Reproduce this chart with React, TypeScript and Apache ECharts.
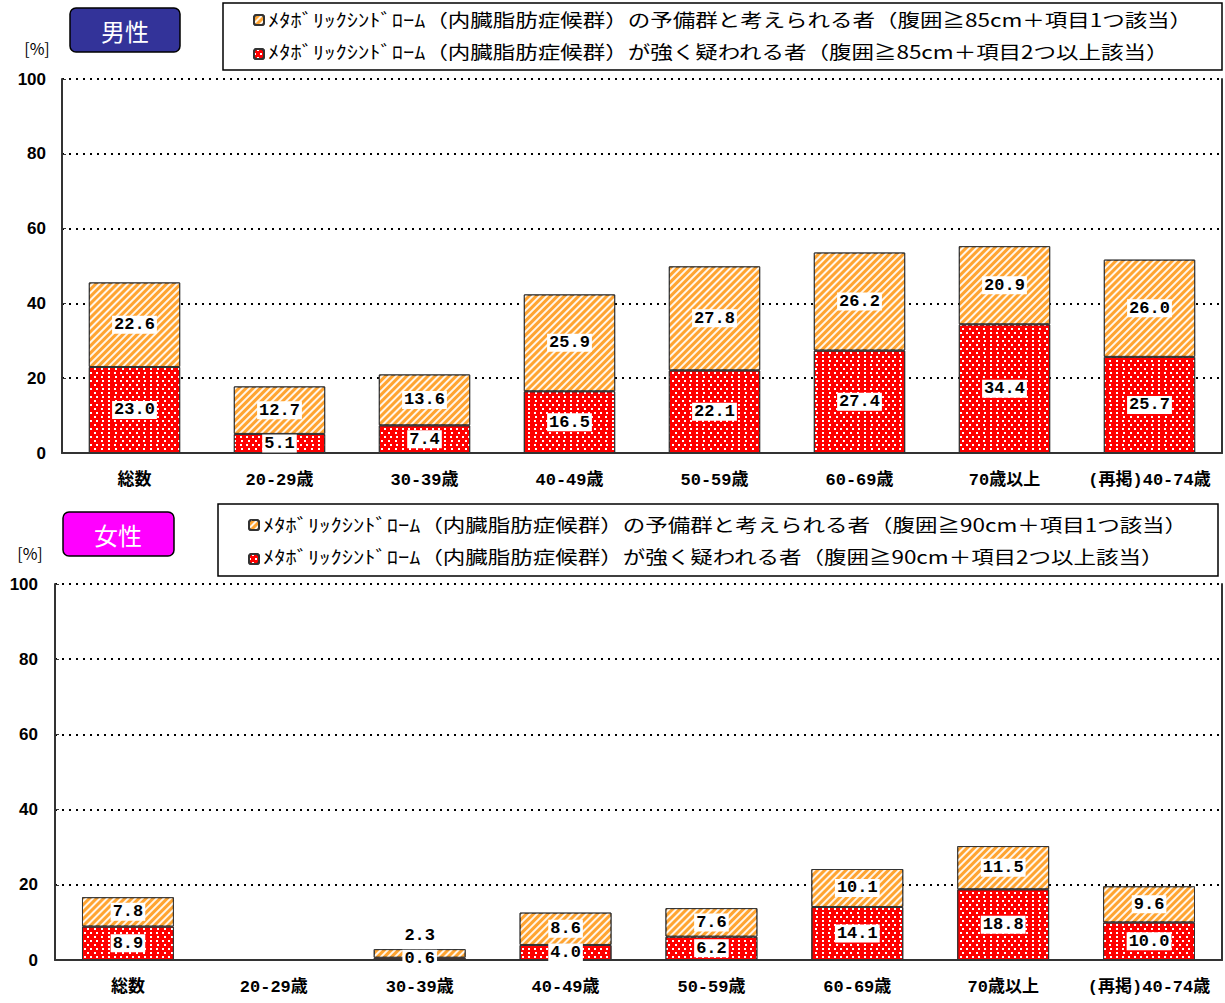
import React, { useEffect, useRef } from 'react';
import * as echarts from 'echarts';

const categories = ['総数', '20-29歳', '30-39歳', '40-49歳', '50-59歳', '60-69歳', '70歳以上', '(再掲)40-74歳'];
const yTicks = [0, 20, 40, 60, 80, 100];
const maleStrong = [23.0, 5.1, 7.4, 16.5, 22.1, 27.4, 34.4, 25.7];
const maleReserve = [22.6, 12.7, 13.6, 25.9, 27.8, 26.2, 20.9, 26.0];
const femaleStrong: (number | null)[] = [8.9, null, 0.6, 4.0, 6.2, 14.1, 18.8, 10.0];
const femaleReserve: (number | null)[] = [7.8, null, 2.3, 8.6, 7.6, 10.1, 11.5, 9.6];
const maleReserveName = 'ﾒﾀﾎﾞﾘｯｸｼﾝﾄﾞﾛｰﾑ（内臓脂肪症候群）の予備群と考えられる者（腹囲≧85cm＋項目1つ該当）';
const maleStrongName = 'ﾒﾀﾎﾞﾘｯｸｼﾝﾄﾞﾛｰﾑ（内臓脂肪症候群）が強く疑われる者（腹囲≧85cm＋項目2つ以上該当）';
const femaleReserveName = 'ﾒﾀﾎﾞﾘｯｸｼﾝﾄﾞﾛｰﾑ（内臓脂肪症候群）の予備群と考えられる者（腹囲≧90cm＋項目1つ該当）';
const femaleStrongName = 'ﾒﾀﾎﾞﾘｯｸｼﾝﾄﾞﾛｰﾑ（内臓脂肪症候群）が強く疑われる者（腹囲≧90cm＋項目2つ以上該当）';
const maleTitle = '男性';
const femaleTitle = '女性';
const unitLabel = '[%]';

const JP = '"Noto Sans CJK JP", sans-serif';

const hatchDecal = {
  symbol: 'rect',
  symbolSize: 1,
  dashArrayX: [1, 0],
  dashArrayY: [1.5, 2.5],
  rotation: -Math.PI / 4,
  color: 'rgba(255,255,255,0.9)',
};
const dotDecal = {
  symbol: 'rect',
  symbolSize: 1,
  dashArrayX: [[1.2, 3.8], [0, 2.5, 1.2, 1.3]],
  dashArrayY: [1.2, 1.3],
  rotation: 0,
  color: '#ffffff',
};

const labelStyle = {
  show: true,
  position: 'inside',
  formatter: (p: any) => (p.value == null ? '' : Number(p.value).toFixed(1)),
  color: '#000',
  fontFamily: '"Liberation Mono", monospace',
  fontWeight: 'bold',
  fontSize: 17,
  backgroundColor: '#fff',
  padding: [1, 2, 0, 2],
};

function makeAxes(gridIndex: number, labelMargin: number) {
  const xAxis = {
    type: 'category',
    gridIndex,
    data: categories,
    axisLine: { show: true, lineStyle: { color: '#333', width: 2 } },
    axisTick: { show: false },
    axisLabel: {
      interval: 0,
      color: '#000',
      fontFamily: '"Liberation Mono", "Noto Sans CJK JP", monospace',
      fontWeight: 'bold',
      fontSize: 17,
      margin: 19,
    },
  };
  const yAxis = [
    {
      type: 'value',
      gridIndex,
      min: 0,
      max: 100,
      interval: 20,
      axisLine: { show: true, lineStyle: { color: '#333', width: 2 } },
      axisTick: { show: true, inside: true, length: 4, lineStyle: { color: '#333' } },
      axisLabel: {
        color: '#000',
        fontFamily: '"Liberation Sans", Arial, sans-serif',
        fontWeight: 'bold',
        fontSize: 17,
        margin: labelMargin,
        formatter: (v: number) => (yTicks.includes(v) ? String(v) : ''),
      },
      splitLine: { show: true, lineStyle: { color: '#000', type: [2, 5], width: 2 } },
    },
    {
      type: 'value',
      gridIndex,
      position: 'right',
      min: 0,
      max: 100,
      interval: 20,
      axisLine: { show: true, lineStyle: { color: '#333', width: 2 } },
      axisTick: { show: false },
      axisLabel: { show: false },
      splitLine: { show: false },
    },
  ];
  return { xAxis, yAxis };
}

function legendText(x: number, y: number, text: string) {
  return {
    type: 'text',
    x,
    y,
    scaleX: 1.25,
    style: { text, fill: '#000', font: `18px ${JP}`, align: 'left', verticalAlign: 'middle' },
  };
}

export default function App() {
  const ref = useRef<HTMLDivElement>(null);
  useEffect(() => {
    if (!ref.current) return;
    const chart = echarts.init(ref.current, null, { renderer: 'svg' });
    const a0 = makeAxes(0, 16);
    const a1 = makeAxes(1, 17);
    const barCommon = {
      type: 'bar',
      barCategoryGap: '37%',
      label: labelStyle,
    };
    const strongStyle = { color: '#ff0000', borderColor: '#333', borderWidth: 1, decal: dotDecal };
    const reserveStyle = { color: '#ffa431', borderColor: '#333', borderWidth: 1, decal: hatchDecal };
    const legendCommon = {
      orient: 'vertical',
      itemWidth: 10,
      itemHeight: 10,
      itemGap: 22,
      padding: 0,
      selectedMode: false,
      formatter: () => '',
      textStyle: { fontSize: 8, lineHeight: 10 },
    };
    const option: any = {
      animation: false,
      aria: { enabled: false },
      grid: [
        { left: 62, right: 3, top: 79, height: 374 },
        { left: 55, right: 3, top: 584, height: 376 },
      ],
      xAxis: [a0.xAxis, a1.xAxis],
      yAxis: [...a0.yAxis, ...a1.yAxis],
      legend: [
        { ...legendCommon, left: 253, top: 14, data: [maleReserveName, maleStrongName] },
        { ...legendCommon, left: 248, top: 519, data: [femaleReserveName, femaleStrongName] },
      ],
      series: [
        { ...barCommon, name: maleStrongName, stack: 'm', xAxisIndex: 0, yAxisIndex: 0, data: maleStrong, itemStyle: strongStyle },
        { ...barCommon, name: maleReserveName, stack: 'm', xAxisIndex: 0, yAxisIndex: 0, data: maleReserve, itemStyle: reserveStyle },
        { ...barCommon, name: femaleStrongName, stack: 'f', xAxisIndex: 1, yAxisIndex: 2, data: femaleStrong, itemStyle: strongStyle },
        {
          ...barCommon,
          name: femaleReserveName,
          stack: 'f',
          xAxisIndex: 1,
          yAxisIndex: 2,
          data: femaleReserve.map((v) =>
            v != null && v < 3 ? { value: v, label: { position: 'top', backgroundColor: 'transparent' } } : v
          ),
          itemStyle: reserveStyle,
        },
      ],
      graphic: [
        { type: 'rect', shape: { x: 223, y: 3, width: 999, height: 67 }, style: { fill: 'none', stroke: '#000', lineWidth: 1.5 }, z: -1 },
        { type: 'rect', shape: { x: 218, y: 504, width: 1000, height: 72 }, style: { fill: 'none', stroke: '#000', lineWidth: 1.5 }, z: -1 },
        legendText(268, 19, maleReserveName),
        legendText(268, 51, maleStrongName),
        legendText(263, 524, femaleReserveName),
        legendText(263, 556, femaleStrongName),
        { type: 'rect', shape: { x: 70, y: 8, width: 110, height: 44, r: 6 }, style: { fill: '#333399', stroke: '#000', lineWidth: 1.5 } },
        { type: 'text', x: 125, y: 30, style: { text: maleTitle, fill: '#fff', font: `24px ${JP}`, align: 'center', verticalAlign: 'middle' } },
        { type: 'rect', shape: { x: 63, y: 512, width: 111, height: 44, r: 6 }, style: { fill: '#ff00ff', stroke: '#000', lineWidth: 1.5 } },
        { type: 'text', x: 118, y: 534, style: { text: femaleTitle, fill: '#fff', font: `24px ${JP}`, align: 'center', verticalAlign: 'middle' } },
        { type: 'text', x: 37, y: 48, style: { text: unitLabel, fill: '#000', font: `16px ${JP}`, align: 'center', verticalAlign: 'middle' } },
        { type: 'text', x: 30, y: 553, style: { text: unitLabel, fill: '#000', font: `16px ${JP}`, align: 'center', verticalAlign: 'middle' } },
      ],
    };
    chart.setOption(option);
    return () => chart.dispose();
  }, []);
  return (
    <div
      ref={ref}
      style={{ position: 'absolute', left: 0, top: 0, width: 1225, height: 1003, background: '#fff' }}
    />
  );
}
